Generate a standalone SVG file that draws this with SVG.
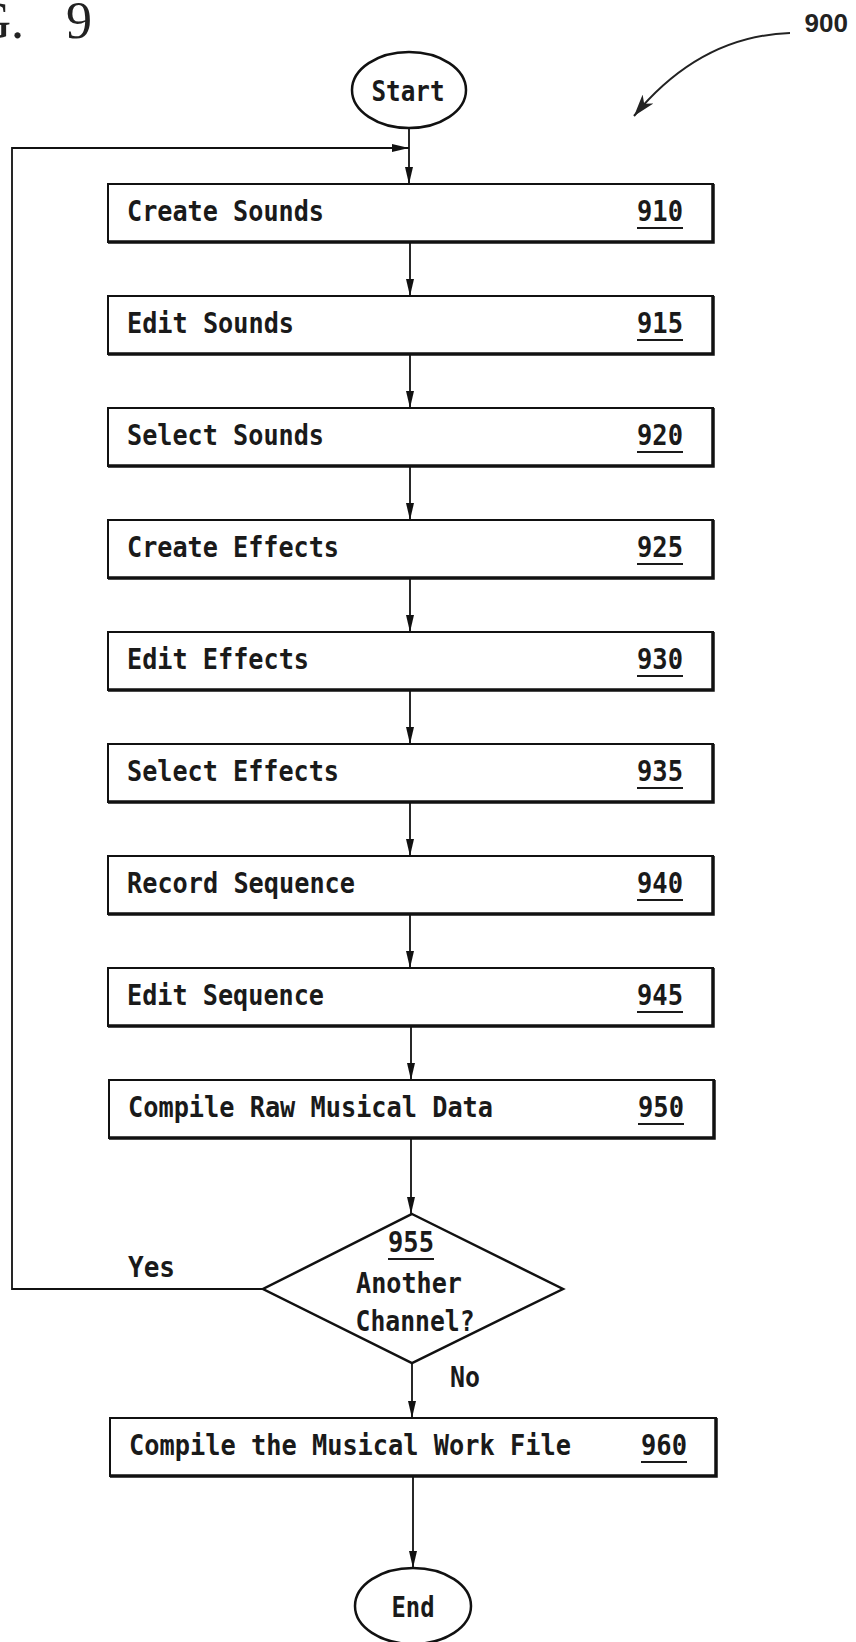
<svg xmlns="http://www.w3.org/2000/svg" width="856" height="1642" viewBox="0 0 856 1642">
<style>
.bg{fill:#fff}
.box{fill:#fff;stroke:#111;stroke-width:2}
.shd{fill:none;stroke:#111;stroke-width:3.5}
.term{fill:#fff;stroke:#111;stroke-width:2.5}
.lbl{font-family:"DejaVu Sans Mono","Liberation Mono",monospace;font-size:28px;font-weight:bold;fill:#1a1a1a}
.num{font-family:"DejaVu Sans Mono","Liberation Mono",monospace;font-size:28px;font-weight:bold;fill:#1a1a1a;text-anchor:end}
.ul{stroke:#1a1a1a;stroke-width:2}
.ctr{text-anchor:middle}
.edge{fill:none;stroke:#111;stroke-width:1.8}
</style>
<defs>
<marker id="ah" markerUnits="userSpaceOnUse" markerWidth="18" markerHeight="8" refX="17" refY="4" orient="auto">
<path d="M0,0 L17,4 L0,8 z" fill="#111"/>
</marker>
<marker id="ah2" markerUnits="userSpaceOnUse" markerWidth="24" markerHeight="14" refX="22" refY="7" orient="auto">
<path d="M0,0 L22,7 L0,14 L6,7 z" fill="#222"/>
</marker>
</defs>
<rect class="bg" x="0" y="0" width="856" height="1642"/>

<g id="title">
<text x="24" y="38" font-family="Liberation Serif,serif" font-size="52" text-anchor="end" fill="#222">FIG.</text>
<text x="66" y="38" font-family="Liberation Serif,serif" font-size="52" fill="#222">9</text>
</g>

<g id="ref900">
<text x="848" y="32" font-family="Liberation Sans,Arial,sans-serif" font-size="26" font-weight="bold" text-anchor="end" fill="#222">900</text>
<path d="M790,33 Q700,36 634,116" fill="none" stroke="#222" stroke-width="2" marker-end="url(#ah2)"/>
</g>

<g id="connectors">
<line class="edge" x1="409" y1="128" x2="409" y2="184" marker-end="url(#ah)"/>
<polyline class="edge" points="263,1289 12,1289 12,148 409,148" marker-end="url(#ah)"/>
<line class="edge" x1="410" y1="242" x2="410" y2="296" marker-end="url(#ah)"/>
<line class="edge" x1="410" y1="354" x2="410" y2="408" marker-end="url(#ah)"/>
<line class="edge" x1="410" y1="466" x2="410" y2="520" marker-end="url(#ah)"/>
<line class="edge" x1="410" y1="578" x2="410" y2="632" marker-end="url(#ah)"/>
<line class="edge" x1="410" y1="690" x2="410" y2="744" marker-end="url(#ah)"/>
<line class="edge" x1="410" y1="802" x2="410" y2="856" marker-end="url(#ah)"/>
<line class="edge" x1="410" y1="914" x2="410" y2="968" marker-end="url(#ah)"/>
<line class="edge" x1="411" y1="1026" x2="411" y2="1080" marker-end="url(#ah)"/>
<line class="edge" x1="411" y1="1138" x2="411" y2="1214" marker-end="url(#ah)"/>
<line class="edge" x1="412" y1="1363" x2="412" y2="1418" marker-end="url(#ah)"/>
<line class="edge" x1="413" y1="1476" x2="413" y2="1568" marker-end="url(#ah)"/>
<text class="lbl" x="128" y="1277" textLength="47" lengthAdjust="spacingAndGlyphs">Yes</text>
<text class="lbl" x="450" y="1387" textLength="30" lengthAdjust="spacingAndGlyphs">No</text>
</g>

<g id="start">
<ellipse class="term" cx="409" cy="90" rx="57" ry="38"/>
<text class="lbl ctr" x="408" y="101" textLength="73" lengthAdjust="spacingAndGlyphs">Start</text>
</g>

<g id="n910">
<rect class="box" x="108" y="184" width="605" height="58"/>
<path class="shd" d="M108,242 H713 V184"/>
<text class="lbl" x="127" y="221" textLength="197" lengthAdjust="spacingAndGlyphs">Create Sounds</text>
<text class="num" x="683" y="221" textLength="46" lengthAdjust="spacingAndGlyphs">910</text>
<line class="ul" x1="637" y1="228" x2="683" y2="228"/>
</g>

<g id="n915">
<rect class="box" x="108" y="296" width="605" height="58"/>
<path class="shd" d="M108,354 H713 V296"/>
<text class="lbl" x="127" y="333" textLength="167" lengthAdjust="spacingAndGlyphs">Edit Sounds</text>
<text class="num" x="683" y="333" textLength="46" lengthAdjust="spacingAndGlyphs">915</text>
<line class="ul" x1="637" y1="340" x2="683" y2="340"/>
</g>

<g id="n920">
<rect class="box" x="108" y="408" width="605" height="58"/>
<path class="shd" d="M108,466 H713 V408"/>
<text class="lbl" x="127" y="445" textLength="197" lengthAdjust="spacingAndGlyphs">Select Sounds</text>
<text class="num" x="683" y="445" textLength="46" lengthAdjust="spacingAndGlyphs">920</text>
<line class="ul" x1="637" y1="452" x2="683" y2="452"/>
</g>

<g id="n925">
<rect class="box" x="108" y="520" width="605" height="58"/>
<path class="shd" d="M108,578 H713 V520"/>
<text class="lbl" x="127" y="557" textLength="212" lengthAdjust="spacingAndGlyphs">Create Effects</text>
<text class="num" x="683" y="557" textLength="46" lengthAdjust="spacingAndGlyphs">925</text>
<line class="ul" x1="637" y1="564" x2="683" y2="564"/>
</g>

<g id="n930">
<rect class="box" x="108" y="632" width="605" height="58"/>
<path class="shd" d="M108,690 H713 V632"/>
<text class="lbl" x="127" y="669" textLength="182" lengthAdjust="spacingAndGlyphs">Edit Effects</text>
<text class="num" x="683" y="669" textLength="46" lengthAdjust="spacingAndGlyphs">930</text>
<line class="ul" x1="637" y1="676" x2="683" y2="676"/>
</g>

<g id="n935">
<rect class="box" x="108" y="744" width="605" height="58"/>
<path class="shd" d="M108,802 H713 V744"/>
<text class="lbl" x="127" y="781" textLength="212" lengthAdjust="spacingAndGlyphs">Select Effects</text>
<text class="num" x="683" y="781" textLength="46" lengthAdjust="spacingAndGlyphs">935</text>
<line class="ul" x1="637" y1="788" x2="683" y2="788"/>
</g>

<g id="n940">
<rect class="box" x="108" y="856" width="605" height="58"/>
<path class="shd" d="M108,914 H713 V856"/>
<text class="lbl" x="127" y="893" textLength="228" lengthAdjust="spacingAndGlyphs">Record Sequence</text>
<text class="num" x="683" y="893" textLength="46" lengthAdjust="spacingAndGlyphs">940</text>
<line class="ul" x1="637" y1="900" x2="683" y2="900"/>
</g>

<g id="n945">
<rect class="box" x="108" y="968" width="605" height="58"/>
<path class="shd" d="M108,1026 H713 V968"/>
<text class="lbl" x="127" y="1005" textLength="197" lengthAdjust="spacingAndGlyphs">Edit Sequence</text>
<text class="num" x="683" y="1005" textLength="46" lengthAdjust="spacingAndGlyphs">945</text>
<line class="ul" x1="637" y1="1012" x2="683" y2="1012"/>
</g>

<g id="n950">
<rect class="box" x="109" y="1080" width="605" height="58"/>
<path class="shd" d="M109,1138 H714 V1080"/>
<text class="lbl" x="128" y="1117" textLength="365" lengthAdjust="spacingAndGlyphs">Compile Raw Musical Data</text>
<text class="num" x="684" y="1117" textLength="46" lengthAdjust="spacingAndGlyphs">950</text>
<line class="ul" x1="638" y1="1124" x2="684" y2="1124"/>
</g>

<g id="n955">
<polygon class="term" points="412,1214 563,1289 412,1363 263,1289"/>
<text class="num ctr" x="411" y="1252" textLength="46" lengthAdjust="spacingAndGlyphs">955</text>
<line class="ul" x1="388" y1="1259" x2="434" y2="1259"/>
<text class="lbl ctr" x="409" y="1293" textLength="106" lengthAdjust="spacingAndGlyphs">Another</text>
<text class="lbl ctr" x="415" y="1331" textLength="119" lengthAdjust="spacingAndGlyphs">Channel?</text>
</g>

<g id="n960">
<rect class="box" x="110" y="1418" width="606" height="58"/>
<path class="shd" d="M110,1476 H716 V1418"/>
<text class="lbl" x="129" y="1455" textLength="442" lengthAdjust="spacingAndGlyphs">Compile the Musical Work File</text>
<text class="num" x="687" y="1455" textLength="46" lengthAdjust="spacingAndGlyphs">960</text>
<line class="ul" x1="641" y1="1462" x2="687" y2="1462"/>
</g>

<g id="end">
<ellipse class="term" cx="413" cy="1606" rx="58" ry="38"/>
<text class="lbl ctr" x="413" y="1617" textLength="43" lengthAdjust="spacingAndGlyphs">End</text>
</g>
</svg>
